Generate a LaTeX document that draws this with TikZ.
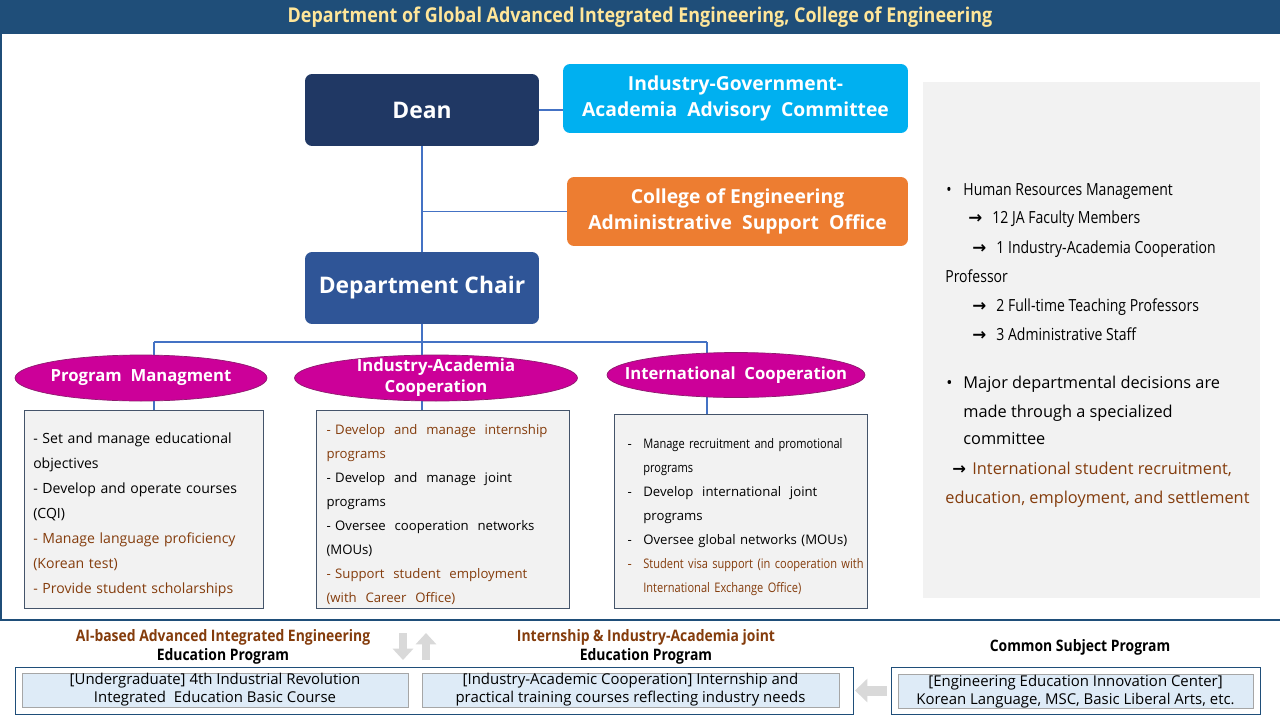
\documentclass[tikz,border=0pt]{standalone}
\usepackage{fontspec}
\setmainfont{Open Sans}
\newfontfamily\narrowfont{Open Sans}[FakeStretch=0.84]
\newfontfamily\semifont{Open Sans}[FakeStretch=0.88]
\newfontfamily\arrowfont{DejaVu Sans}
\usepackage{xcolor}
\usepackage{tikz}
\usetikzlibrary{shapes.geometric, arrows.meta, positioning}
\pgfdeclarelayer{background}
\pgfsetlayers{background,main}

\definecolor{titlebg}{HTML}{1F4E79}
\definecolor{titletxt}{HTML}{FFE699}
\definecolor{deanblue}{HTML}{203864}
\definecolor{chairblue}{HTML}{2F5597}
\definecolor{skyblue}{HTML}{00B0F0}
\definecolor{admorange}{HTML}{ED7D31}
\definecolor{ovalfill}{HTML}{CC0099}
\definecolor{ovaledge}{HTML}{8E1B6E}
\definecolor{boxfill}{HTML}{F2F2F2}
\definecolor{boxedge}{HTML}{44546A}
\definecolor{brn}{HTML}{843C0C}
\definecolor{linkblue}{HTML}{4472C4}
\definecolor{paleblue}{HTML}{DEEBF7}
\definecolor{arrowgray}{HTML}{D9D9D9}

\newcommand{\arr}{{\arrowfont\bfseries →}}

\begin{document}
\begin{tikzpicture}[x=0.02cm, y=-0.02cm,
    titlebar/.style={rectangle, fill=titlebg, text=titletxt, minimum width=25.6cm, minimum height=0.68cm, inner sep=0pt, font=\semifont\bfseries\fontsize{11.6}{13}\selectfont},
    headbox/.style={rectangle, rounded corners=4pt, minimum width=4.68cm, minimum height=1.44cm, text=white, font=\bfseries\fontsize{13}{15}\selectfont},
    sidebox/.style={rectangle, rounded corners=4pt, minimum width=6.9cm, minimum height=1.38cm, text=white, align=center, font=\bfseries\fontsize{11}{14.8}\selectfont},
    unit/.style={ellipse, draw=ovaledge, fill=ovalfill, text=white, minimum height=0.92cm, inner xsep=-30pt, inner ysep=-5pt, align=center, font=\bfseries\fontsize{9.5}{12}\selectfont},
    duty/.style={rectangle, draw=boxedge, fill=boxfill, inner ysep=0pt, align=left, minimum width=5.06cm},
    panel/.style={rectangle, fill=boxfill, inner sep=0pt},
    note/.style={anchor=base west, inner sep=0pt, font=\narrowfont\fontsize{9.5}{11}\selectfont},
    decision/.style={anchor=base west, inner sep=0pt, font=\fontsize{9.3}{11}\selectfont},
    caption/.style={align=center, inner sep=0pt, font=\semifont\bfseries\fontsize{9}{10.8}\selectfont},
    track/.style={rectangle, draw=titlebg, fill=white, minimum height=0.94cm, inner sep=0pt},
    course/.style={rectangle, draw=gray!70, fill=paleblue, minimum height=0.68cm, inner sep=0pt, align=center, font=\fontsize{8.5}{10.2}\selectfont},
    link/.style={draw=linkblue, line width=0.6pt},
    fat/.style={draw=arrowgray, line width=4.5pt, -{Triangle[width=11.5pt,length=6.5pt]}},
    frame/.style={draw=titlebg, line width=0.8pt}]

    \useasboundingbox (0,0) rectangle (1280,720);

    % Title and frame
    \node [titlebar] (title) at (640,17) {Department of Global Advanced Integrated Engineering, College of Engineering};
    \draw [frame] (1,34) |- (1280,620);

    % Leadership
    \node [headbox, fill=deanblue] (dean) at (422,110) {Dean};
    \node [sidebox, fill=skyblue] (committee) at (735.5,98.5) {Industry-Government-\\Academia\ \ Advisory\ \ Committee};
    \node [sidebox, fill=admorange, minimum width=6.82cm] (admin) at (737.5,211.5) {College of Engineering\\Administrative\ \ Support\ \ Office};
    \node [headbox, fill=chairblue] (chair) at (422,288) {Department Chair};

    % Units
    \node [unit, minimum width=5.04cm] (pm) at (141,378) {Program\ \ Managment};
    \node [unit, minimum width=5.66cm] (ia) at (436,378) {Industry-Academia\\Cooperation};
    \node [unit, minimum width=5.16cm, minimum height=0.9cm] (ic) at (736,375) {International\ \ Cooperation};

    % Duties
    \node [duty, minimum width=4.78cm, minimum height=3.96cm, inner xsep=5pt, text width=125.5pt, font=\fontsize{8}{14.2}\selectfont] (pmbox) at (143.5,509) {%
      \rule{0pt}{13pt}\mbox{- Set and manage educational}\\
      objectives\\
      \mbox{- Develop and operate courses}\\
      (CQI)\\
      \textcolor{brn}{\mbox{- Manage language proficiency}}\\
      \textcolor{brn}{(Korean test)}\\
      \textcolor{brn}{\mbox{- Provide student scholarships}}};
    \node [duty, minimum height=3.96cm, inner xsep=5.7pt, text width=132pt, font=\fontsize{7.5}{13.65}\selectfont] (iabox) at (442.5,509) {%
      \rule{0pt}{12pt}\textcolor{brn}{\mbox{- Develop\ \ and\ \ manage\ \ internship}}\\
      \textcolor{brn}{programs}\\
      \mbox{- Develop\ \ and\ \ manage\ \ joint}\\
      programs\\
      \mbox{- Oversee\ \ cooperation\ \ networks}\\
      (MOUs)\\
      \textcolor{brn}{\mbox{- Support\ \ student\ \ employment}}\\
      \textcolor{brn}{(with\ \ Career\ \ Office)}};
    \node [duty, minimum height=3.88cm, inner xsep=7.4pt, text width=128.6pt, font=\fontsize{7.5}{13.65}\selectfont] (icbox) at (740.5,511) {%
      \rule{0pt}{12.5pt}\makebox[9pt][l]{-}\mbox{\narrowfont Manage recruitment and promotional}\\
      \hspace*{9pt}{\narrowfont programs}\\
      \makebox[9pt][l]{-}\mbox{Develop\ \ international\ \ joint}\\
      \hspace*{9pt}programs\\
      \makebox[9pt][l]{-}\mbox{Oversee global networks (MOUs)}\\
      \textcolor{brn}{\makebox[9pt][l]{-}\mbox{\narrowfont Student visa support (in cooperation with}}\\
      \textcolor{brn}{\hspace*{9pt}\mbox{\narrowfont International Exchange Office)}}};

    % Staff panel
    \node [panel, minimum width=6.74cm, minimum height=10.32cm] (staff) at (1091.5,340) {};
    \node [note] (hr1) at (946,195) {\makebox[9.7pt][l]{•}Human Resources Management};
    \node [note] (hr2) at (968,223) {\makebox[13.7pt][l]{\arr}12 JA Faculty Members};
    \node [note] (hr3) at (972,253) {\makebox[13.7pt][l]{\arr}1 Industry-Academia Cooperation};
    \node [note] (hr4) at (945,282) {Professor};
    \node [note] (hr5) at (972,311) {\makebox[13.7pt][l]{\arr}2 Full-time Teaching Professors};
    \node [note] (hr6) at (972,340) {\makebox[13.7pt][l]{\arr}3 Administrative Staff};
    \node [decision] (dc1) at (946,388) {\makebox[9.7pt][l]{•}Major departmental decisions are};
    \node [decision] (dc2) at (963,417) {made through a specialized};
    \node [decision] (dc3) at (963,444) {committee};
    \node [decision, text=brn] (dc4) at (952,474) {\makebox[11.4pt][l]{\textcolor{black}{\arr}}International student recruitment,};
    \node [decision, text=brn] (dc5) at (945,503) {education, employment, and settlement};

    % Education programs
    \node [caption] (aicap) at (223,646.5) {\textcolor{brn}{AI-based Advanced Integrated Engineering}\\Education Program};
    \node [caption] (ijcap) at (646,647) {\textcolor{brn}{Internship \& Industry-Academia joint}\\Education Program};
    \node [caption] (cscap) at (1080,647) {Common Subject Program};
    \node [track, minimum width=16.76cm] (edu) at (434,690.5) {};
    \node [course, minimum width=7.72cm] (ug) at (215,690) {[Undergraduate] 4th Industrial Revolution\\Integrated\ \ Education Basic Course};
    \node [course, minimum width=8.34cm] (iac) at (630.5,690) {[Industry-Academic Cooperation] Internship and\\practical training courses reflecting industry needs};
    \node [track, minimum width=7.38cm] (common) at (1075.5,690.5) {};
    \node [course, minimum width=7.1cm] (eeic) at (1075.5,691.5) {[Engineering Education Innovation Center]\\Korean Language, MSC, Basic Liberal Arts, etc.};

    \coordinate (dntop) at (403,633);
    \coordinate (dnbot) at (403,660);
    \coordinate (uptop) at (426,633);
    \coordinate (upbot) at (426,660);
    \coordinate (busl) at (154,342);
    \coordinate (busr) at (707,342);
    \draw [fat] (dntop) -- (dnbot);
    \draw [fat] (upbot) -- (uptop);
    \draw [fat, line width=5.7pt, -{Triangle[width=13pt,length=7pt]}, shorten >=1pt, shorten <=2.3pt] (common) -- (edu);

    % Links
    \begin{pgfonlayer}{background}
    \fill [white] (0,0) rectangle (1280,720);
    \draw [link] (dean) -- (dean -| committee.west);
    \draw [link] (dean) -- (chair);
    \draw [link] (dean |- admin) -- (admin);
    \draw [link] (chair) -- (chair |- iabox.north);
    \draw [link] (busl) -- (busr);
    \draw [link] (busl) -- (busl |- pmbox.north);
    \draw [link] (busr) -- (busr |- icbox.north);
    \end{pgfonlayer}

\end{tikzpicture}
\end{document}
